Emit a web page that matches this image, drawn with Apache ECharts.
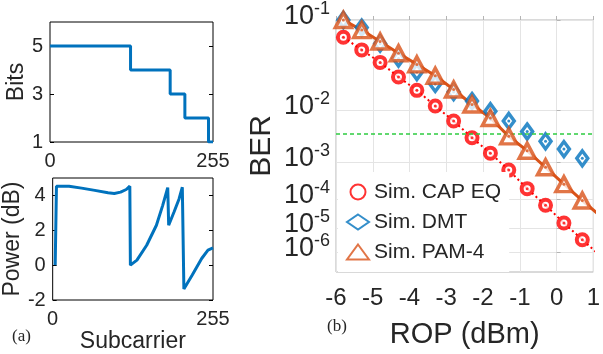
<!DOCTYPE html>
<html>
<head>
<meta charset="utf-8">
<script src="https://cdn.jsdelivr.net/npm/echarts@6/dist/echarts.min.js"></script>
<style>
html, body { margin: 0; padding: 0; background: #fff; }
#chart { width: 603px; height: 354px; }
</style>
</head>
<body>
<div id="chart"></div>
<script>
// (a) bit loading : subcarrier where each level starts
var bitsStart = [0, 126, 188, 211, 248, 255];
var bitsLevel = [5, 4, 3, 2, 1, 1];

// (a) power loading
var powerSc = [4, 6, 26, 46, 67, 88, 98, 108, 117, 122.7, 123.6, 134, 149.5, 165, 175, 183, 184.5, 193, 201, 206.2, 208.7, 222, 237, 247, 255];
var powerDb = [0, 4.53, 4.53, 4.42, 4.29, 4.15, 4.11, 4.19, 4.34, 4.53, 0, 0.29, 1.14, 2.29, 3.43, 4.45, 2.29, 3.05, 3.8, 4.47, -1.37, -0.57, 0.38, 0.86, 0.99];

// (b) BER vs ROP
var rop = [-5.8, -5.3, -4.8, -4.3, -3.8, -3.3, -2.8, -2.3, -1.8, -1.3, -0.8, -0.3, 0.2, 0.7, 1.2];
var berCap = [7.2e-2, 5.5e-2, 4.1e-2, 2.8e-2, 1.9e-2, 1.14e-2, 6.6e-3, 3.3e-3, 1.6e-3, 6.5e-4, 2.1e-4, 6.6e-5, 1.6e-5, 3.5e-6, 6.3e-7];
var berDmt = [1.0e-1, 8.7e-2, 6.3e-2, 4.5e-2, 3.2e-2, 2.3e-2, 1.8e-2, 1.35e-2, 9.5e-3, 6.6e-3, 4.3e-3, 2.8e-3, 1.95e-3, 1.23e-3, 8.0e-4];
var berPam = [1.0e-1, 8.3e-2, 6.6e-2, 5.1e-2, 3.9e-2, 2.9e-2, 1.95e-2, 1.2e-2, 7.4e-3, 3.5e-3, 1.8e-3, 7.6e-4, 2.8e-4, 9.3e-5, 2.8e-5];
var fecLimit = 3.8e-3;
var berTicks = [1e-1, 1e-2, 1e-3, 1e-4, 1e-5, 1e-6];
var berBottom = 1e-7;

var BLUE = '#0072BD', RED = '#FF0000', ORANGE = '#D95319', TXT = '#262626';
var FONT = 'Liberation Sans, Arial';

// BER axis is drawn as log10(-log10(BER)), downwards
function q(b) {
	return Math.log10(-Math.log10(b));
}
function pairs(xs, ys, f) {
	return xs.map(function (x, i) { return [x, f ? f(ys[i]) : ys[i]]; });
}

var chart = echarts.init(document.getElementById('chart'));

var leftYAxis = function (grid, min, max, ticks, name, pos) {
	var ax = {
		type: 'value', gridIndex: grid, min: min, max: max, position: pos,
		axisLine: { show: false },
		axisTick: { show: true, inside: true, length: 4, customValues: ticks, lineStyle: { color: '#000' } },
		axisLabel: { show: pos === 'left', customValues: ticks, margin: 7, fontSize: 20, color: TXT, fontFamily: FONT, hideOverlap: false, showMinLabel: true, showMaxLabel: true },
		splitLine: { show: false }
	};
	if (name) {
		ax.name = name;
		ax.nameLocation = 'middle';
		ax.nameRotate = 90;
		ax.nameGap = 21;
		ax.nameTextStyle = { fontSize: 23, color: TXT, fontFamily: FONT };
	}
	return ax;
};

// BER tick labels "10^-n"
var berLabel = function (vals) {
	return {
		customValues: vals, margin: 6, color: TXT, fontFamily: FONT,
		hideOverlap: false, showMinLabel: true, showMaxLabel: true,
		formatter: function (v) {
			var d = Math.round(Math.pow(10, v));
			return '{b|10}{s|-' + d + '}';
		},
		rich: {
			b: { fontSize: 27, lineHeight: 20, verticalAlign: 'bottom', color: TXT, fontFamily: FONT },
			s: { fontSize: 18, lineHeight: 8, verticalAlign: 'bottom', padding: [0, 0, 12, 0], color: TXT, fontFamily: FONT }
		}
	};
};

// marker layer (hollow symbol + centre dot) for one BER curve
function markerSeries(name, symbol, size, bw, color, ber, z) {
	return [{
		name: name, type: 'scatter', xAxisIndex: 2, yAxisIndex: 4,
		symbol: symbol, symbolSize: size,
		itemStyle: { color: '#fff', borderColor: color, borderWidth: bw },
		data: pairs(rop, ber, q), z: z, silent: true
	}, {
		type: 'scatter', xAxisIndex: 2, yAxisIndex: 4, symbolSize: 3,
		itemStyle: { color: color }, data: pairs(rop, ber, q), z: z, silent: true
	}];
}

// 1e-5 label goes on its own overlaid axis, otherwise it is dropped as overlapping
var berMain = berTicks.filter(function (b) { return b !== 1e-5; }).map(q);
var berExtra = [q(1e-5)];

var option = {
	animation: false,
	backgroundColor: '#fff',
	grid: [
		{ left: 50, top: 22, width: 163, height: 120, show: true, borderColor: '#000', borderWidth: 1, backgroundColor: 'transparent' },
		{ left: 48, top: 178, width: 165, height: 122, show: true, borderColor: '#000', borderWidth: 1, backgroundColor: 'transparent' },
		{ left: 336, top: 20, width: 264, height: 253, show: true, borderColor: '#b4b4b4', borderWidth: 1, backgroundColor: 'transparent' }
	],
	xAxis: [
		{
			type: 'value', gridIndex: 0, min: 0, max: 255,
			axisLine: { show: false }, axisTick: { show: false }, splitLine: { show: false },
			axisLabel: { customValues: [0, 255], margin: 9, fontSize: 20, color: TXT, fontFamily: FONT, showMinLabel: true, showMaxLabel: true }
		},
		{
			type: 'value', gridIndex: 1, min: 0, max: 255,
			axisLine: { show: false }, axisTick: { show: false }, splitLine: { show: false },
			axisLabel: { customValues: [0, 255], margin: 9, fontSize: 20, color: TXT, fontFamily: FONT, showMinLabel: true, showMaxLabel: true },
			name: 'Subcarrier', nameLocation: 'middle', nameGap: 20,
			nameTextStyle: { fontSize: 23, color: TXT, fontFamily: FONT }
		},
		{
			type: 'value', gridIndex: 2, min: -6, max: 1, interval: 1,
			axisLine: { show: false },
			axisTick: { show: true, inside: true, length: 4, lineStyle: { color: '#b4b4b4' } },
			axisLabel: { margin: 14, fontSize: 24, color: TXT, fontFamily: FONT, showMinLabel: true, showMaxLabel: true },
			splitLine: { show: true, lineStyle: { color: '#e4e4e4', width: 1 } },
			name: 'ROP (dBm)', nameLocation: 'middle', nameGap: 48,
			nameTextStyle: { fontSize: 29, color: TXT, fontFamily: FONT }
		}
	],
	yAxis: [
		leftYAxis(0, 1, 6, [1, 3, 5], 'Bits', 'left'),
		leftYAxis(0, 1, 6, [1, 3, 5], null, 'right'),
		leftYAxis(1, -2, 5, [-2, 0, 2, 4], 'Power (dB)', 'left'),
		leftYAxis(1, -2, 5, [-2, 0, 2, 4], null, 'right'),
		{
			type: 'value', gridIndex: 2, inverse: true, min: 0, max: q(berBottom), position: 'left',
			axisLine: { show: false },
			axisTick: { show: true, inside: true, length: 4, customValues: berTicks.map(q), lineStyle: { color: '#b4b4b4' } },
			splitLine: { show: true, lineStyle: { color: '#e4e4e4', width: 1 } },
			axisLabel: berLabel(berMain),
			name: 'BER', nameLocation: 'middle', nameRotate: 90, nameGap: 59,
			nameTextStyle: { fontSize: 30, color: TXT, fontFamily: FONT }
		},
		{
			type: 'value', gridIndex: 2, inverse: true, min: 0, max: q(berBottom), position: 'left', offset: 0,
			axisLine: { show: false }, axisTick: { show: false }, splitLine: { show: false },
			axisLabel: berLabel(berExtra)
		}
	],
	legend: {
		data: ['Sim. CAP EQ', 'Sim. DMT', 'Sim. PAM-4'],
		orient: 'vertical', left: 338, top: 172,
		padding: [8, 8, 8, 8],
		backgroundColor: '#fff',
		itemWidth: 22, itemHeight: 15, itemGap: 6,
		textStyle: { fontSize: 21, lineHeight: 24, color: TXT, fontFamily: FONT }
	},
	graphic: [
		{ type: 'text', left: 12, top: 328, style: { text: '(a)', fontSize: 17, fill: TXT, fontFamily: 'Liberation Serif, Times New Roman' } },
		{ type: 'text', left: 327, top: 318, style: { text: '(b)', fontSize: 17, fill: TXT, fontFamily: 'Liberation Serif, Times New Roman' } }
	],
	series: [
		{
			type: 'line', xAxisIndex: 0, yAxisIndex: 0, step: 'end', showSymbol: false,
			lineStyle: { color: BLUE, width: 3 },
			data: pairs(bitsStart, bitsLevel)
		},
		{
			type: 'line', xAxisIndex: 1, yAxisIndex: 2, showSymbol: false,
			lineStyle: { color: BLUE, width: 3 },
			data: pairs(powerSc, powerDb)
		},
		{
			type: 'line', xAxisIndex: 2, yAxisIndex: 4, showSymbol: false, silent: true,
			lineStyle: { color: RED, width: 2, type: [2, 3] },
			data: pairs(rop, berCap, q),
			markLine: {
				silent: true, symbol: 'none', label: { show: false },
				lineStyle: { color: '#2ecc40', type: [4, 3], width: 1.5, opacity: 1 },
				data: [{ yAxis: q(fecLimit) }]
			},
			z: 2
		},
		{
			type: 'line', xAxisIndex: 2, yAxisIndex: 4, showSymbol: false, silent: true,
			lineStyle: { color: ORANGE, width: 3 },
			data: pairs(rop, berPam, q),
			z: 2
		}
	]
	.concat(markerSeries('Sim. CAP EQ', 'circle', 11, 4, RED, berCap, 3))
	.concat(markerSeries('Sim. DMT', 'diamond', [11, 15], 3.5, BLUE, berDmt, 4))
	.concat(markerSeries('Sim. PAM-4', 'triangle', [16, 15], 3.5, ORANGE, berPam, 5))
};

chart.setOption(option);
</script>
</body>
</html>
